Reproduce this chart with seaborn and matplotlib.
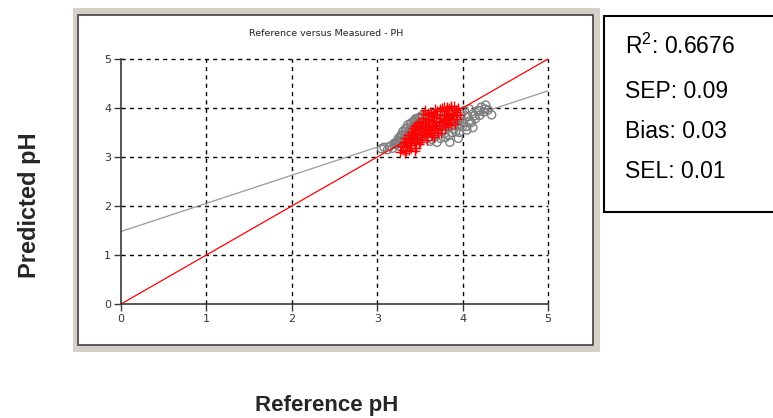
import matplotlib
matplotlib.use("Agg")
import matplotlib.pyplot as plt
import seaborn as sns
import pandas as pd
from matplotlib.patches import Rectangle

# Measured (gray circles) samples: reference pH vs predicted pH
gray_x = [3.05, 3.08, 3.12, 3.15, 3.18, 3.20, 3.22, 3.24, 3.26, 3.27, 3.29, 3.30,
          3.32, 3.33, 3.35, 3.36, 3.38, 3.39, 3.40, 3.42, 3.43, 3.45, 3.46, 3.48,
          3.50, 3.51, 3.53, 3.55, 3.56, 3.58, 3.60, 3.62, 3.63, 3.65, 3.66, 3.68,
          3.70, 3.72, 3.74, 3.75, 3.77, 3.79, 3.80, 3.82, 3.84, 3.86, 3.88, 3.90,
          3.92, 3.94, 3.96, 3.98, 4.00, 4.02, 4.04, 4.06, 4.08, 4.10, 4.12, 4.15,
          4.18, 4.20, 4.22, 4.25, 4.27, 4.30, 4.34, 3.85, 3.70, 3.95, 4.05, 4.12,
          3.22, 3.25, 3.28, 3.30, 3.33, 3.36, 3.40, 3.44, 3.48, 3.52, 3.30, 3.34,
          3.38, 3.42, 3.46, 3.50, 3.54, 3.58, 3.62, 3.66, 3.70, 3.74, 3.78, 3.82,
          3.86, 3.90, 3.94, 3.98, 3.60, 3.64, 3.68, 3.76, 3.80, 3.88, 3.92, 4.00,
          4.08, 4.14, 4.20, 4.26, 3.26, 3.34, 3.44, 3.52]
gray_y = [3.17, 3.20, 3.15, 3.22, 3.18, 3.28, 3.25, 3.33, 3.22, 3.40, 3.30, 3.45,
          3.36, 3.52, 3.42, 3.60, 3.48, 3.66, 3.38, 3.55, 3.72, 3.78, 3.47, 3.63,
          3.80, 3.52, 3.70, 3.43, 3.85, 3.60, 3.75, 3.32, 3.50, 3.88, 3.66, 3.42,
          3.78, 3.55, 3.38, 3.90, 3.68, 3.48, 3.82, 3.60, 3.44, 3.74, 3.92, 3.57,
          3.80, 3.66, 3.50, 3.88, 3.72, 3.95, 3.62, 3.82, 3.98, 3.70, 3.88, 3.78,
          3.95, 3.85, 4.02, 3.92, 4.06, 3.96, 3.86, 3.30, 3.30, 3.38, 3.55, 3.60,
          3.30, 3.38, 3.45, 3.52, 3.58, 3.66, 3.70, 3.76, 3.80, 3.84, 3.35, 3.45,
          3.55, 3.62, 3.70, 3.62, 3.58, 3.70, 3.80, 3.55, 3.62, 3.72, 3.78, 3.70,
          3.62, 3.70, 3.76, 3.80, 3.40, 3.36, 3.48, 3.52, 3.40, 3.50, 3.52, 3.62,
          3.72, 3.84, 3.94, 3.98, 3.28, 3.30, 3.40, 3.44]

# Reference (red crosses) samples
red_x = [3.27, 3.28, 3.30, 3.31, 3.32, 3.33, 3.34, 3.35, 3.36, 3.37, 3.38, 3.39,
         3.40, 3.41, 3.42, 3.43, 3.44, 3.45, 3.46, 3.47, 3.48, 3.49, 3.50, 3.51,
         3.52, 3.53, 3.54, 3.55, 3.56, 3.57, 3.58, 3.59, 3.60, 3.61, 3.62, 3.63,
         3.64, 3.65, 3.66, 3.67, 3.68, 3.69, 3.70, 3.71, 3.72, 3.73, 3.74, 3.75,
         3.76, 3.77, 3.78, 3.79, 3.80, 3.81, 3.82, 3.83, 3.84, 3.85, 3.86, 3.87,
         3.88, 3.89, 3.90, 3.91, 3.92, 3.94, 3.95, 3.97, 3.50, 3.58, 3.64, 3.44,
         3.38, 3.68, 3.75,
         3.30, 3.33, 3.36, 3.40, 3.43, 3.46, 3.50, 3.53, 3.56, 3.60, 3.63, 3.66,
         3.70, 3.74, 3.78, 3.84, 3.34, 3.40, 3.46, 3.52, 3.56, 3.62, 3.68, 3.72,
         3.78, 3.82, 3.88, 3.92, 3.48, 3.44, 3.54, 3.60, 3.66, 3.70, 3.80, 3.86,
         3.92, 3.58, 3.64, 3.42]
red_y = [3.10, 3.22, 3.15, 3.30, 3.08, 3.38, 3.20, 3.28, 3.45, 3.14, 3.35, 3.52,
         3.24, 3.42, 3.60, 3.30, 3.48, 3.18, 3.66, 3.38, 3.55, 3.27, 3.72, 3.45,
         3.62, 3.35, 3.80, 3.52, 3.96, 3.68, 3.42, 3.86, 3.58, 3.75, 3.48, 3.92,
         3.64, 3.82, 3.40, 3.55, 3.98, 3.72, 3.88, 3.50, 3.66, 3.94, 3.80, 3.58,
         4.00, 3.70, 3.86, 3.62, 3.95, 3.76, 4.02, 3.66, 3.90, 3.80, 4.04, 3.72,
         3.95, 3.84, 4.05, 3.68, 3.92, 3.78, 4.00, 3.86, 3.30, 3.35, 3.45, 3.12,
         3.25, 3.60, 3.48,
         3.22, 3.30, 3.36, 3.44, 3.50, 3.56, 3.60, 3.66, 3.72, 3.78, 3.84, 3.88,
         3.94, 3.98, 4.02, 4.00, 3.12, 3.18, 3.28, 3.40, 3.46, 3.56, 3.66, 3.74,
         3.78, 3.84, 3.88, 3.96, 3.70, 3.64, 3.88, 3.90, 3.72, 3.56, 3.70, 3.68,
         3.86, 3.52, 3.62, 3.36]

# Fitted regression line and 1:1 identity line (end points)
fit_x = [0.0, 5.0]
fit_y = [1.48, 4.35]
ident_x = [0.0, 5.0]
ident_y = [0.0, 5.0]

ticks = [0, 1, 2, 3, 4, 5]
stats = ["R$^2$: 0.6676", "SEP: 0.09", "Bias: 0.03", "SEL: 0.01"]

sns.set_style("white")
plt.rcParams["font.family"] = ["Liberation Sans", "DejaVu Sans"]
plt.rcParams["mathtext.fontset"] = "custom"
plt.rcParams["mathtext.rm"] = "Liberation Sans"
plt.rcParams["mathtext.it"] = "Liberation Sans"

W, H = 773, 418
fig = plt.figure(figsize=(W / 100, H / 100), dpi=100)
fig.patch.set_facecolor("white")


def fx(px):
    return px / W


def fy(py):
    return 1 - py / H


# Gray window panel with white inset
fig.patches.append(Rectangle((fx(73), fy(352)), (600 - 73) / W, (352 - 8) / H,
                             transform=fig.transFigure, facecolor="#d4d0c8",
                             edgecolor="none", zorder=0))
fig.patches.append(Rectangle((fx(78), fy(345)), (593 - 78) / W, (345 - 15) / H,
                             transform=fig.transFigure, facecolor="white",
                             edgecolor="#404040", linewidth=1.2, zorder=0.5))

# Stats box
fig.patches.append(Rectangle((fx(604), fy(212)), (790 - 604) / W, (212 - 16) / H,
                             transform=fig.transFigure, facecolor="white",
                             edgecolor="black", linewidth=1.5, zorder=1))
for s, ypx in zip(stats, [46, 92, 132, 172]):
    fig.text(fx(625), fy(ypx), s, fontsize=16.5, va="center",
             ha="left", color="black")

ax = fig.add_axes([fx(121), fy(304), (548 - 121) / W, (304 - 59) / H])
ax.set_zorder(3)
ax.set_facecolor("none")

gray_df = pd.DataFrame({"ref": gray_x, "pred": gray_y})
red_df = pd.DataFrame({"ref": red_x, "pred": red_y})

sns.lineplot(x=fit_x, y=fit_y, ax=ax, color="#9a9a9a", linewidth=0.9, zorder=3)
sns.scatterplot(data=gray_df, x="ref", y="pred", ax=ax, marker="o", s=34,
                facecolor="none", edgecolor="#808080", linewidth=1.0, zorder=4)
sns.scatterplot(data=red_df, x="ref", y="pred", ax=ax, marker="+", s=55,
                color="red", linewidth=1.0, zorder=5)
sns.lineplot(x=ident_x, y=ident_y, ax=ax, color="red", linewidth=0.9, zorder=6)

ax.set_xlim(0, 5)
ax.set_ylim(0, 5)
ax.set_xticks(ticks)
ax.set_yticks(ticks)
ax.set_xticklabels([str(t) for t in ticks])
ax.set_yticklabels([str(t) for t in ticks])
ax.set_xlabel("")
ax.set_ylabel("")
ax.grid(False)
for t in ticks[1:]:
    ax.axhline(t, color="black", linestyle=(0, (3, 3)), linewidth=1.0, zorder=1,
               clip_on=False)
    ax.axvline(t, color="black", linestyle=(0, (3, 3)), linewidth=1.0, zorder=1,
               clip_on=False)
for side in ["top", "right"]:
    ax.spines[side].set_visible(False)
for side in ["left", "bottom"]:
    ax.spines[side].set_color("#3a3a3a")
    ax.spines[side].set_linewidth(1.2)
    ax.spines[side].set_zorder(7)
ax.tick_params(axis="both", direction="out", length=5, width=1, color="#3a3a3a",
               labelsize=8, labelcolor="#333333", pad=2, left=True, bottom=True)
for lab in ax.get_xticklabels() + ax.get_yticklabels():
    lab.set_family("DejaVu Sans")
    lab.set_fontsize(8)

fig.text(fx(326), fy(34), "Reference versus Measured - PH", fontsize=6.8,
         ha="center", va="center", color="#222222", family="DejaVu Sans")

fig.text(fx(30), fy(205), "Predicted pH", fontsize=17, fontweight="bold",
         rotation=90, ha="center", va="center")
fig.text(fx(327), fy(405), "Reference pH", fontsize=16, fontweight="bold",
         ha="center", va="center")

fig.savefig("out.png", dpi=100)
